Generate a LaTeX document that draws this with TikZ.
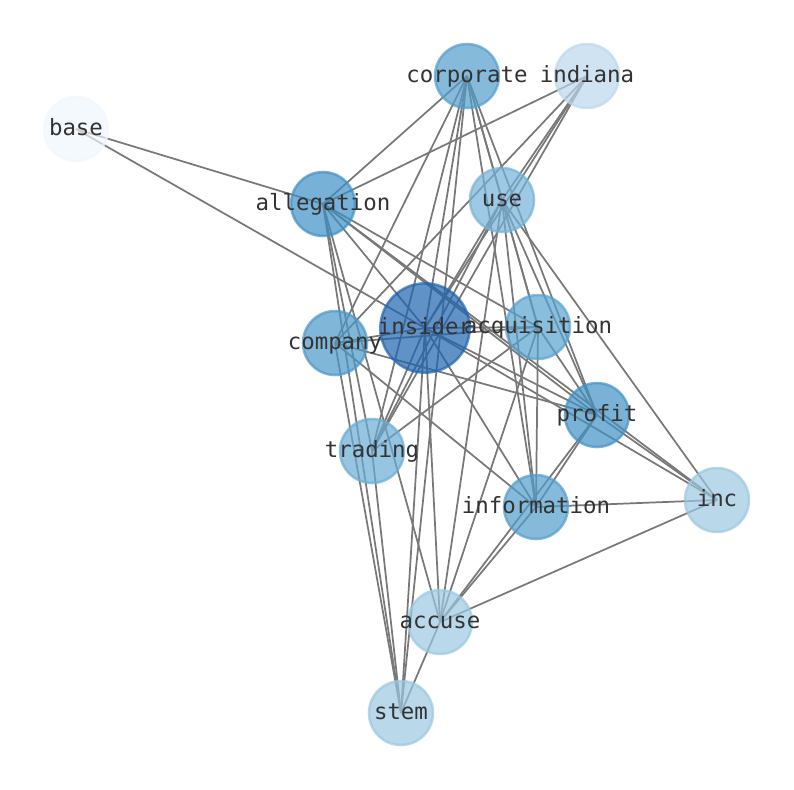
\documentclass[tikz,border=0pt]{standalone}
\usepackage{fontspec}
\setmonofont{DejaVu Sans Mono}
\usetikzlibrary{backgrounds}
\definecolor{cInsider}{RGB}{30,100,175}
\definecolor{cAlleg}{RGB}{62,144,198}
\definecolor{cProfit}{RGB}{66,146,198}
\definecolor{cCorp}{RGB}{82,157,204}
\definecolor{cAcq}{RGB}{88,162,207}
\definecolor{cComp}{RGB}{74,152,201}
\definecolor{cInfo}{RGB}{82,157,204}
\definecolor{cUse}{RGB}{117,178,216}
\definecolor{cTrad}{RGB}{105,172,213}
\definecolor{cLow}{RGB}{155,199,225}
\definecolor{cInd}{RGB}{188,215,236}
\definecolor{cBase}{RGB}{240,246,253}
\definecolor{txt}{RGB}{51,51,51}
\definecolor{edgec}{RGB}{120,120,120}
\newcommand{\wlab}[1]{\raisebox{-4.6pt}[8pt][8pt]{\makebox[0pt][c]{#1}}}
\tikzset{
  wnode/.style={circle, draw=#1, fill=#1, fill opacity=0.7, draw opacity=0.7,
    text opacity=1, line width=1.9pt, minimum size=48pt, inner sep=0pt,
    font=\ttfamily\fontsize{16.8}{16.8}\selectfont, text=txt},
  bignode/.style={wnode=#1, minimum size=67pt},
  link/.style={draw=edgec, line width=1.3pt}
}
\begin{document}
\begin{tikzpicture}[x=0.75pt,y=-0.75pt]
\useasboundingbox (0,0) rectangle (794,790);
\node[wnode=cCorp] (corporate) at (467,76) {\wlab{corporate}};
\node[wnode=cInd] (indiana) at (587,76) {\wlab{indiana}};
\node[wnode=cBase] (base) at (76,129) {\wlab{base}};
\node[wnode=cAlleg] (allegation) at (323,204) {\wlab{allegation}};
\node[wnode=cUse] (use) at (502,200) {\wlab{use}};
\node[bignode=cInsider] (insider) at (425,328) {\wlab{insider}};
\node[wnode=cAcq] (acquisition) at (538,327) {\wlab{acquisition}};
\node[wnode=cComp] (company) at (335,343) {\wlab{company}};
\node[wnode=cProfit] (profit) at (597,415) {\wlab{profit}};
\node[wnode=cTrad] (trading) at (372,451) {\wlab{trading}};
\node[wnode=cInfo] (information) at (536,507) {\wlab{information}};
\node[wnode=cLow] (inc) at (717,500) {\wlab{inc}};
\node[wnode=cLow] (accuse) at (440,622) {\wlab{accuse}};
\node[wnode=cLow] (stem) at (401,713) {\wlab{stem}};
\begin{scope}[on background layer]
\foreach \a/\b in {
 base/allegation, base/insider,
 indiana/allegation, indiana/company, indiana/use, indiana/insider, indiana/trading,
 corporate/allegation, corporate/company, corporate/trading, corporate/insider,
 corporate/use, corporate/acquisition, corporate/information, corporate/profit, corporate/stem,
 allegation/insider, allegation/acquisition, allegation/profit, allegation/inc,
 allegation/stem, allegation/accuse, allegation/trading,
 use/insider, use/trading, use/acquisition, use/profit, use/information, use/accuse, use/inc,
 insider/company, insider/acquisition, insider/trading, insider/profit, insider/information,
 insider/inc, insider/accuse, insider/stem,
 acquisition/company, acquisition/trading, acquisition/profit, acquisition/information, acquisition/accuse,
 company/profit, company/information, company/stem,
 profit/information, profit/inc, profit/accuse,
 information/inc, information/accuse,
 inc/accuse, trading/stem, accuse/stem}
 \draw[link] (\a.center) -- (\b.center);
\end{scope}
\end{tikzpicture}
\end{document}
